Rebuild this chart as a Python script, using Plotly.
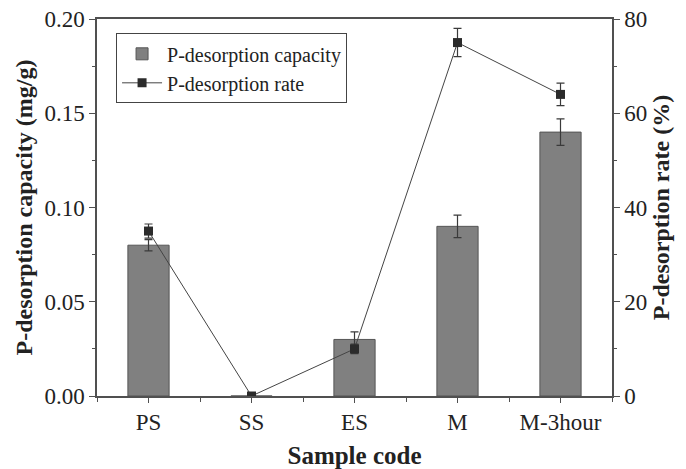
import plotly.graph_objects as go

# Samples and measured values
samples = ["PS", "SS", "ES", "M", "M-3hour"]
capacity = [0.08, 0.0, 0.03, 0.09, 0.14]          # mg/g
capacity_err = [0.003, 0.0, 0.004, 0.006, 0.007]
rate = [35, 0, 10, 75, 64]                          # %
rate_err = [1.5, 0, 1, 3, 2.4]

x_pos = list(range(len(samples)))
serif = "Liberation Serif, Times New Roman, serif"
axis_col = "#505050"

fig = go.Figure()

fig.add_trace(go.Bar(
    x=x_pos, y=capacity, width=0.4,
    name="P-desorption capacity",
    marker=dict(color="#808080", line=dict(color="#555555", width=1)),
    error_y=dict(type="data", array=capacity_err, color="#3a3a3a",
                 thickness=1.2, width=4),
    yaxis="y",
))

fig.add_trace(go.Scatter(
    x=x_pos, y=rate, mode="lines+markers",
    name="P-desorption rate",
    line=dict(color="#444444", width=1),
    marker=dict(symbol="square", size=9, color="#2b2b2b"),
    error_y=dict(type="data", array=rate_err, color="#3a3a3a",
                 thickness=1.2, width=4),
    yaxis="y2",
))

fig.update_layout(
    width=686, height=469,
    margin=dict(l=97, r=74, t=19, b=73, autoexpand=False),
    paper_bgcolor="white", plot_bgcolor="white",
    font=dict(family=serif, size=23, color="#222222"),
    showlegend=True,
    legend=dict(
        x=0.037, y=0.962, xanchor="left", yanchor="top",
        bgcolor="white", bordercolor="#444444", borderwidth=1,
        font=dict(family=serif, size=20, color="#222222"),
        tracegroupgap=0, itemwidth=40,
    ),
    xaxis=dict(
        range=[-0.5, 4.5], automargin=False,
        tickmode="array", tickvals=x_pos, ticktext=samples,
        ticks="outside", ticklen=5, tickwidth=1.2, tickcolor=axis_col,
        minor=dict(tickmode="linear", tick0=0.5, dtick=1, ticks="outside",
                   ticklen=4, tickwidth=1, tickcolor=axis_col),
        showline=True, linecolor=axis_col, linewidth=1.5, mirror=True,
        showgrid=False, zeroline=False,
        title=dict(text="<b>Sample code</b>", font=dict(size=25), standoff=16),
    ),
    yaxis=dict(
        range=[0, 0.2], dtick=0.05, tickformat=".2f", automargin=False,
        ticks="outside", ticklen=6, tickwidth=1.2, tickcolor=axis_col,
        minor=dict(dtick=0.025, ticks="outside", ticklen=3, tickwidth=1,
                   tickcolor=axis_col),
        showline=True, linecolor=axis_col, linewidth=1.5,
        showgrid=False, zeroline=False,
        title=dict(text="<b>P-desorption capacity (mg/g)</b>",
                   font=dict(size=24), standoff=5),
    ),
    yaxis2=dict(
        range=[0, 80], dtick=20, overlaying="y", side="right", automargin=False,
        ticks="outside", ticklen=6, tickwidth=1.2, tickcolor=axis_col,
        minor=dict(dtick=10, ticks="outside", ticklen=3, tickwidth=1,
                   tickcolor=axis_col),
        showline=True, linecolor=axis_col, linewidth=1.5,
        showgrid=False, zeroline=False,
        title=dict(text="<b>P-desorption rate (%)</b>",
                   font=dict(size=24), standoff=6),
    ),
)

fig.write_html("out.html")
